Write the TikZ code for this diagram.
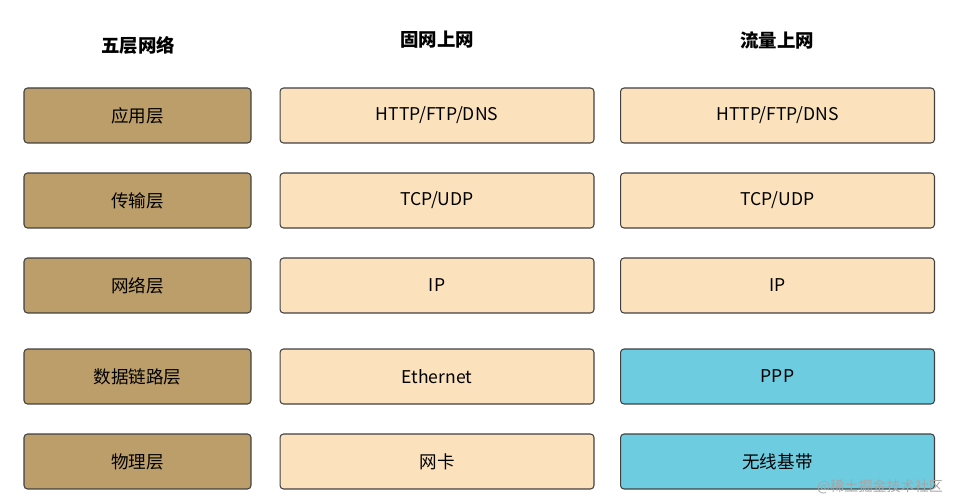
\documentclass[tikz,border=0pt]{standalone}
\usepackage{fontspec}
\setmainfont{Noto Sans CJK SC}
\definecolor{layerbrown}{HTML}{BC9E6A}
\definecolor{protocream}{HTML}{FBE2BC}
\definecolor{radiocyan}{HTML}{6DCCE0}
\tikzset{
  layerbox/.style={draw=black!75, rounded corners=2pt, line width=0.6pt, fill=layerbrown,
    minimum width=4.54cm, minimum height=1.1cm, font=\fontsize{10}{12}\selectfont},
  protobox/.style={layerbox, fill=protocream, minimum width=6.28cm},
  radiobox/.style={protobox, fill=radiocyan},
  headtext/.style={font=\bfseries\fontsize{10.5}{12}\selectfont}
}
\begin{document}
\begin{tikzpicture}[x=0.02cm, y=-0.02cm]
        \useasboundingbox (0, 0) rectangle (955, 502);
        % Headers
        \node[headtext] (h1) at (138, 45) {五层网络};
        \node[headtext] (h2) at (437, 40) {固网上网};
        \node[headtext] (h3) at (777, 40) {流量上网};

        % Layers
        \node[layerbox] (l1) at (137.5, 115.5) {应用层};
        \node[layerbox] (l2) at (137.5, 200.5) {传输层};
        \node[layerbox] (l3) at (137.5, 285.5) {网络层};
        \node[layerbox] (l4) at (137.5, 376.5) {数据链路层};
        \node[layerbox] (l5) at (137.5, 461.5) {物理层};

        % Fixed line
        \node[protobox] (f1) at (437, 115.5) {HTTP/FTP/DNS};
        \node[protobox] (f2) at (437, 200.5) {TCP/UDP};
        \node[protobox] (f3) at (437, 285.5) {IP};
        \node[protobox] (f4) at (437, 376.5) {Ethernet};
        \node[protobox] (f5) at (437, 461.5) {网卡};

        % Mobile data
        \node[protobox] (m1) at (777.5, 115.5) {HTTP/FTP/DNS};
        \node[protobox] (m2) at (777.5, 200.5) {TCP/UDP};
        \node[protobox] (m3) at (777.5, 285.5) {IP};
        \node[radiobox] (m4) at (777.5, 376.5) {PPP};
        \node[radiobox] (m5) at (777.5, 461.5) {无线基带};

        % Watermark
        \node[text=black!35, font=\fontsize{8}{9}\selectfont] (wm) at (880, 487) {@稀土掘金技术社区};
    \end{tikzpicture}
\end{document}
